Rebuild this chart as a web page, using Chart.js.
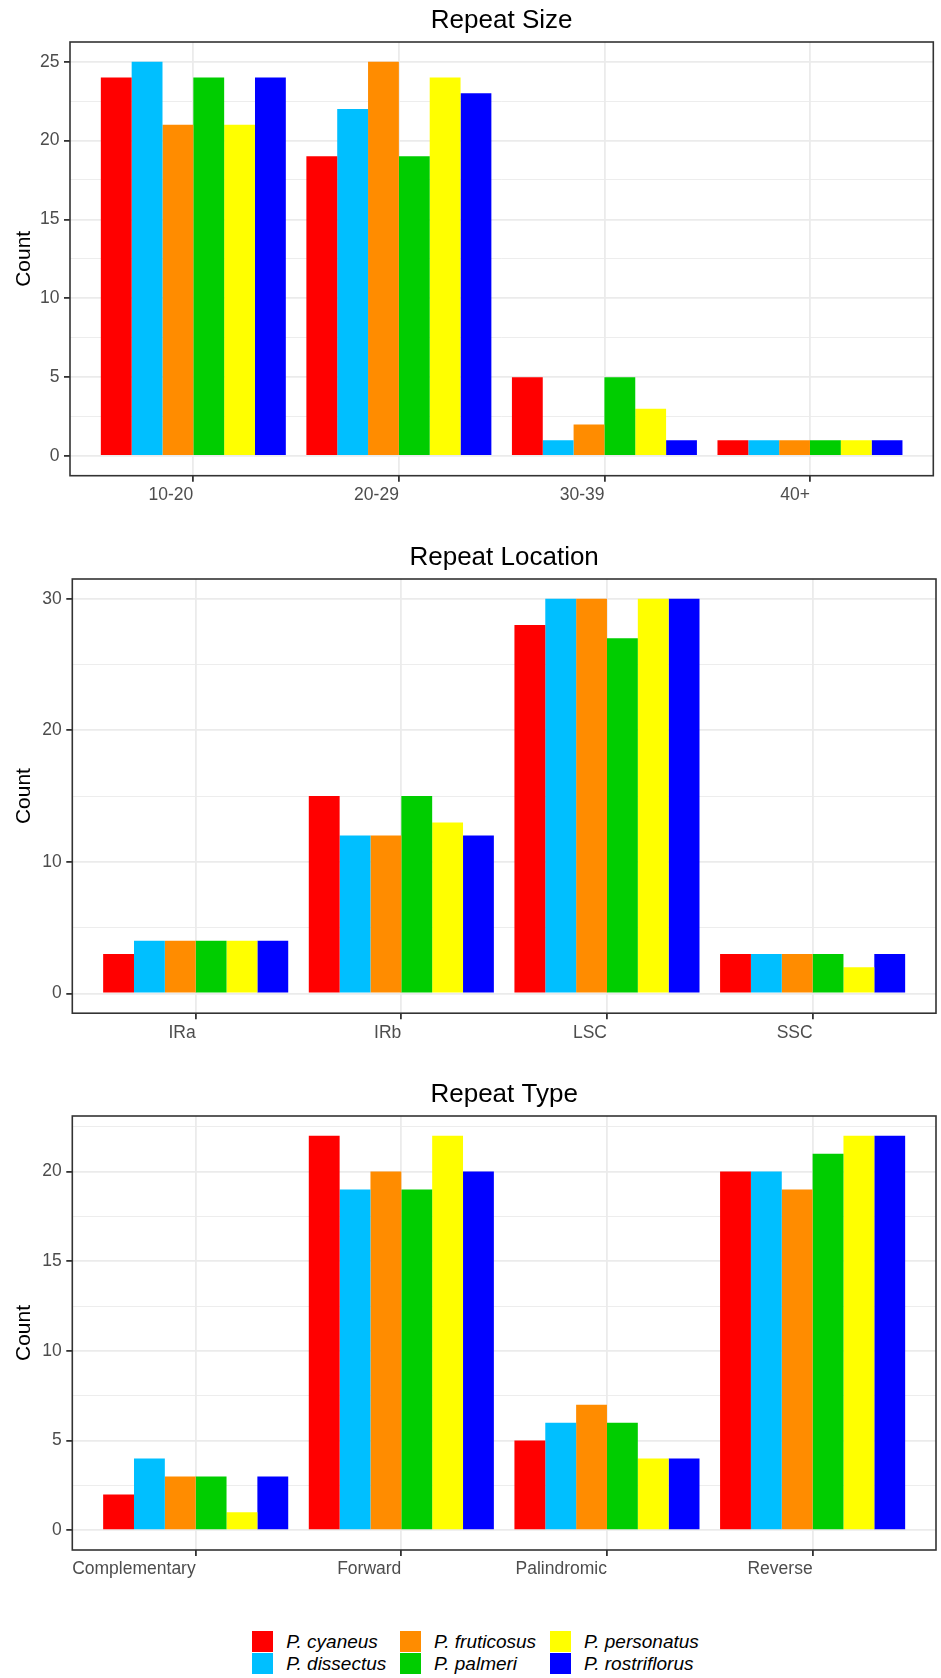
<!DOCTYPE html>
<html><head><meta charset="utf-8">
<script src="https://cdn.jsdelivr.net/npm/chart.js@4.4.0/dist/chart.umd.min.js"></script>
<style>
html,body{margin:0;padding:0;background:#fff;}
body{width:941px;height:1678px;position:relative;overflow:hidden;font-family:'Liberation Sans',Arial,sans-serif;}
canvas{position:absolute;left:0;}
.leg{position:absolute;height:21px;display:flex;align-items:center;}
.sw{width:21px;height:21px;flex:none;}
.lt{margin-left:13px;font-style:italic;font-size:19px;color:#000;white-space:nowrap;line-height:21px;}
</style></head><body>
<canvas id="c1" width="941" height="520" style="top:0px"></canvas>
<canvas id="c2" width="941" height="520" style="top:537px"></canvas>
<canvas id="c3" width="941" height="520" style="top:1074px"></canvas>
<div id="legend"></div>
<script>
// ---- data ----
const species = ['P. cyaneus','P. dissectus','P. fruticosus','P. palmeri','P. personatus','P. rostriflorus'];
const colors  = ['#FF0000','#00BFFF','#FF8C00','#00CD00','#FFFF00','#0000FF'];

const sizeCategories = ['10-20','20-29','30-39','40+'];
const sizeValues = [ // one row per species
  [24,19,5,1],
  [25,22,1,1],
  [21,25,2,1],
  [24,19,5,1],
  [21,24,3,1],
  [24,23,1,1]
];
const sizeYTicks = [0,5,10,15,20,25];

const locationCategories = ['IRa','IRb','LSC','SSC'];
const locationValues = [
  [3,15,28,3],
  [4,12,30,3],
  [4,12,30,3],
  [4,15,27,3],
  [4,13,30,2],
  [4,12,30,3]
];
const locationYTicks = [0,10,20,30];

const typeCategories = ['Complementary','Forward','Palindromic','Reverse'];
const typeValues = [
  [2,22,5,20],
  [4,19,6,20],
  [3,20,7,19],
  [3,19,6,21],
  [1,22,4,22],
  [3,20,4,22]
];
const typeYTicks = [0,5,10,15,20];

// ---- drawing ----
const FAM = "'Liberation Sans', Arial, sans-serif";
const borderPlugin = {
  id: 'panelBorder',
  afterDraw(chart) {
    const {ctx, chartArea: a} = chart;
    ctx.save();
    ctx.strokeStyle = '#333333';
    ctx.lineWidth = 1.6;
    ctx.strokeRect(a.left, a.top, a.right - a.left, a.bottom - a.top);
    ctx.restore();
  }
};

function makeChart(id, title, categories, values, majors, leftW, rightPad, xh) {
  const dataMax = Math.max(...values.flat());
  const pad = dataMax * 0.05;
  const ymin = -pad, ymax = dataMax + pad;
  const step = majors[1] - majors[0];
  let minors = majors.map(v => v + step / 2);
  minors.push(majors[0] - step / 2);
  minors = minors.filter(v => v > ymin && v < ymax && !majors.includes(v));
  const allY = majors.concat(minors).sort((a, b) => a - b);
  const isMajor = v => majors.includes(v);

  const datasets = species.map((name, i) => ({
    label: name,
    data: categories.map((c, j) => ({x: j + 1, y: values[i][j]})),
    backgroundColor: colors[i],
    borderWidth: 0,
    categoryPercentage: 0.9,
    barPercentage: 1.0
  }));

  return new Chart(document.getElementById(id), {
    type: 'bar',
    data: {datasets},
    plugins: [borderPlugin],
    options: {
      responsive: false,
      animation: false,
      devicePixelRatio: 1,
      layout: {padding: {left: 0, right: rightPad, top: 0, bottom: 0}},
      plugins: {
        legend: {display: false},
        tooltip: {enabled: false},
        title: {
          display: true, text: title, fullSize: false, color: '#000',
          font: {size: 26, weight: 'normal', family: FAM},
          padding: {top: 5.5, bottom: 5.3}
        }
      },
      scales: {
        x: {
          type: 'linear', min: 0.4, max: categories.length + 0.6, bounds: 'data', offset: false,
          afterBuildTicks: s => { s.ticks = categories.map((c, i) => ({value: i + 1})); },
          ticks: {
            callback: v => categories[Math.round(v) - 1],
            autoSkip: false, maxRotation: 0, minRotation: 0, align: 'end',
            padding: 3, color: '#4D4D4D', font: {size: 17.5, family: FAM}
          },
          grid: {color: '#EBEBEB', lineWidth: 1.8, tickLength: 6, tickColor: '#333333', tickWidth: 1.8, offset: false},
          border: {display: false},
          afterFit: s => { s.height = xh; s.paddingLeft = 0; s.paddingRight = 0; }
        },
        y: {
          type: 'linear', min: ymin, max: ymax, bounds: 'data',
          afterBuildTicks: s => { s.ticks = allY.map(v => ({value: v})); },
          ticks: {
            callback: v => isMajor(v) ? String(v) : '',
            padding: 4.5, color: '#4D4D4D', font: {size: 17.5, family: FAM}
          },
          grid: {
            color: '#EBEBEB',
            lineWidth: ctx => isMajor(ctx.tick.value) ? 1.8 : 0.9,
            tickLength: 6,
            tickColor: ctx => isMajor(ctx.tick.value) ? '#333333' : 'rgba(0,0,0,0)',
            tickWidth: 1.8
          },
          border: {display: false},
          title: {display: true, text: 'Count', color: '#000', font: {size: 21, family: FAM}, padding: {top: 12, bottom: 0}},
          afterFit: s => { s.width = leftW; s.paddingTop = 0; s.paddingBottom = 0; }
        }
      }
    }
  });
}

makeChart('c1', 'Repeat Size', sizeCategories, sizeValues, sizeYTicks, 70, 7.7, 44.3);
makeChart('c2', 'Repeat Location', locationCategories, locationValues, locationYTicks, 72.3, 5, 43.8);
makeChart('c3', 'Repeat Type', typeCategories, typeValues, typeYTicks, 72.3, 5, 44);

// ---- legend (3 columns, filled by column) ----
const legCols = [252.3, 400, 550];
const legRows = [1630.7, 1653.3];
const legend = document.getElementById('legend');
species.forEach((name, i) => {
  const col = Math.floor(i / 2), row = i % 2;
  const d = document.createElement('div');
  d.className = 'leg';
  d.style.left = legCols[col] + 'px';
  d.style.top = legRows[row] + 'px';
  const sw = document.createElement('div');
  sw.className = 'sw';
  sw.style.background = colors[i];
  const t = document.createElement('span');
  t.className = 'lt';
  t.textContent = name;
  d.appendChild(sw); d.appendChild(t);
  legend.appendChild(d);
});
</script>
</body></html>
